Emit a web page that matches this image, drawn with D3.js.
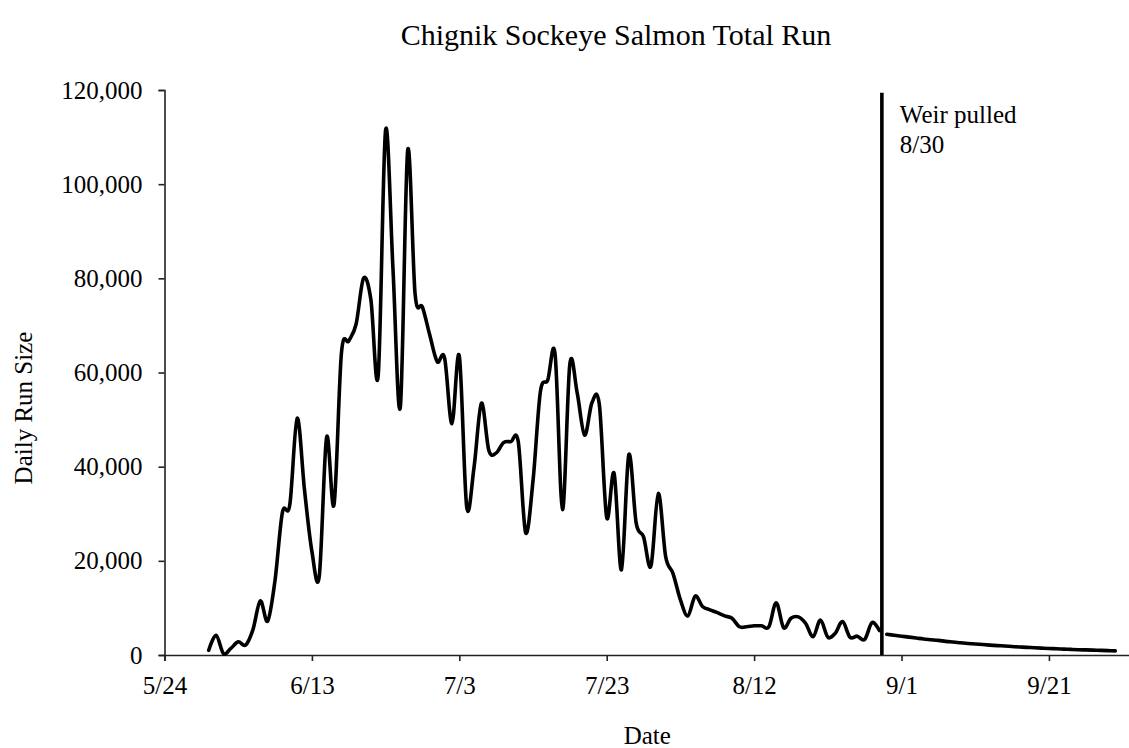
<!DOCTYPE html>
<html>
<head>
<meta charset="utf-8">
<script src="https://cdn.jsdelivr.net/npm/d3@7/dist/d3.min.js"></script>
<style>
  html, body { margin: 0; padding: 0; background: #fff; }
  svg { display: block; }
  text { font-family: "Liberation Serif", "Times New Roman", serif; fill: #000; }
</style>
</head>
<body>
<svg id="chart" width="1129" height="748"></svg>
<script>
// ---- Data ----
const chartTitle = "Chignik Sockeye Salmon Total Run";
const xAxisTitle = "Date";
const yAxisTitle = "Daily Run Size";
const year = 2018;

// Weir counts: daily values starting 5/30
const weirStart = "5/30";
const weirValues = [
  1000, 4200, 300, 1400, 2800, 2100, 5400, 11500, 7200, 15900,
  30300, 31900, 50300, 35000, 22000, 16800, 46300, 31900, 64000, 66700,
  70300, 80000, 75500, 59500, 111500, 82000, 52700, 107200, 76700, 73900,
  67900, 62300, 63100, 49100, 63500, 31500, 39900, 53500, 43500, 42900,
  45100, 45300, 45300, 26000, 37000, 55900, 58400, 63800, 30900, 61800,
  55600, 46700, 53600, 53200, 29200, 38600, 18100, 42500, 28000, 25100,
  18900, 34300, 20900, 17300, 11700, 8300, 12500, 10300, 9600, 9000,
  8300, 7800, 6000, 6000, 6200, 6200, 6000, 11100, 5800, 7800,
  8100, 6700, 3900, 7400, 3800, 4600, 7100, 3800, 4000, 3300,
  6900, 5200
];

// Post-weir estimated run: daily values starting 8/30
const estStart = "8/30";
const estValues = [
  4400, 4200, 4000, 3800, 3600, 3400, 3250, 3100, 2900, 2750,
  2600, 2450, 2350, 2220, 2100, 2000, 1900, 1800, 1700, 1620,
  1540, 1460, 1380, 1320, 1250, 1190, 1130, 1080, 1030, 980,
  930, 880
];

const xTickLabels = ["5/24", "6/13", "7/3", "7/23", "8/12", "9/1", "9/21"];
const yTickValues = [0, 20000, 40000, 60000, 80000, 100000, 120000];
const xDomainLabels = ["5/24", "10/2"];
const yDomain = [0, 120000];

const weirLabelLines = ["Weir pulled", "8/30"];
const weirLineTime = { date: "8/29", hour: 8 };
const weirLineTop = 119400;

// ---- Helpers ----
const parseMD = s => { const [m, d] = s.split("/").map(Number); return new Date(year, m - 1, d); };
const series = (start, vals) => vals.map((v, i) => ({ date: d3.timeDay.offset(parseMD(start), i), value: v }));

const weirData = series(weirStart, weirValues);
const estData = series(estStart, estValues);

// ---- Layout ----
const svg = d3.select("#chart");
const plot = { left: 164.5, right: 1130, top: 90, bottom: 655 };

const x = d3.scaleTime()
  .domain(xDomainLabels.map(parseMD))
  .range([plot.left, plot.right]);
const y = d3.scaleLinear()
  .domain(yDomain)
  .range([plot.bottom, plot.top]);

const fmt = d3.format(",");
const serif = "'Liberation Serif', 'Times New Roman', serif";

// Title
svg.append("text")
  .attr("x", 616).attr("y", 45)
  .attr("text-anchor", "middle")
  .style("font-size", "30px")
  .text(chartTitle);

// Y axis
const yAxis = svg.append("g")
  .attr("transform", `translate(${plot.left},0)`)
  .call(d3.axisLeft(y).tickValues(yTickValues).tickFormat(fmt).tickSize(6).tickPadding(16));
yAxis.select(".domain").attr("stroke", "#222").attr("stroke-width", 1.6);
yAxis.selectAll(".tick line").attr("stroke", "#222").attr("stroke-width", 1.6);
yAxis.selectAll(".tick text")
  .style("font-size", "25px")
  .style("font-family", serif)
  .attr("fill", "#000");

// X axis
const xAxis = svg.append("g")
  .attr("transform", `translate(0,${plot.bottom})`)
  .call(d3.axisBottom(x).tickValues(xTickLabels.map(parseMD)).tickFormat(d3.timeFormat("%-m/%-d")).tickSize(6).tickPadding(15));
xAxis.select(".domain").attr("stroke", "#222").attr("stroke-width", 1.6);
xAxis.selectAll(".tick line").attr("stroke", "#222").attr("stroke-width", 1.6);
xAxis.selectAll(".tick text")
  .style("font-size", "25px")
  .style("font-family", serif)
  .attr("fill", "#000");

// Axis titles
svg.append("text")
  .attr("x", (plot.left + plot.right) / 2).attr("y", 744)
  .attr("text-anchor", "middle")
  .style("font-size", "25px")
  .text(xAxisTitle);

svg.append("text")
  .attr("transform", `translate(32,408) rotate(-90)`)
  .attr("text-anchor", "middle")
  .style("font-size", "25px")
  .text(yAxisTitle);

// Lines
const line = d3.line()
  .x(d => x(d.date))
  .y(d => y(d.value))
  .curve(d3.curveCatmullRom.alpha(0));

[weirData, estData].forEach(data => {
  svg.append("path")
    .datum(data)
    .attr("fill", "none")
    .attr("stroke", "#000")
    .attr("stroke-width", 3.6)
    .attr("stroke-linejoin", "round")
    .attr("stroke-linecap", "round")
    .attr("d", line);
});

// Weir pulled vertical line
const wd = parseMD(weirLineTime.date); wd.setHours(weirLineTime.hour);
svg.append("line")
  .attr("x1", x(wd)).attr("x2", x(wd))
  .attr("y1", y(weirLineTop)).attr("y2", y(0))
  .attr("stroke", "#000")
  .attr("stroke-width", 3.6);

const wl = svg.append("text")
  .attr("x", x(wd) + 18).attr("y", 123)
  .style("font-size", "25px");
weirLabelLines.forEach((t, i) => {
  wl.append("tspan").attr("x", x(wd) + 18).attr("dy", i === 0 ? 0 : 30).text(t);
});
</script>
</body>
</html>
